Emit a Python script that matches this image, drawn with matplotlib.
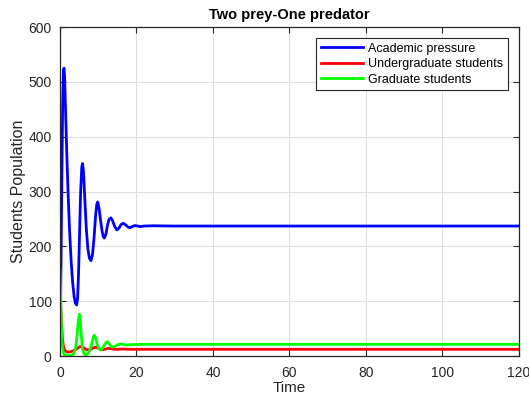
import matplotlib
matplotlib.use("Agg")
import matplotlib.pyplot as plt

# values
t_pressure = [0, 0.2, 0.45, 0.7, 0.9, 1.05, 1.2, 1.45, 1.75, 2.1, 2.5, 2.9, 3.3, 3.7,
              4.05, 4.35, 4.6, 4.85, 5.1, 5.4, 5.7, 5.92, 6.15, 6.5, 6.9, 7.3, 7.7,
              8.1, 8.5, 8.9, 9.3, 9.6, 9.85, 10.2, 10.6, 11.0, 11.3, 11.6, 12.0, 12.4,
              12.8, 13.3, 13.8, 14.3, 14.9, 15.4, 16.0, 16.6, 17.2, 17.8, 18.3, 18.9,
              19.6, 20.3, 21, 22, 24, 30, 40, 60, 80, 100, 120]
pressure = [20, 120, 300, 460, 520, 525, 510, 450, 375, 300, 230, 175, 135, 108,
            96, 93, 105, 150, 220, 300, 345, 351, 335, 285, 230, 195, 178,
            174, 185, 215, 255, 276, 281, 270, 248, 228, 218, 215, 222, 238,
            249, 252, 246, 236, 230, 233, 240, 242, 239, 235, 234, 236,
            238, 237, 236, 237, 237.5, 237, 237, 237, 237, 237, 237]

t_under = [0, 0.15, 0.35, 0.6, 0.9, 1.3, 1.9, 2.6, 3.3, 4.0, 4.6, 5.2, 5.7, 6.2,
           6.8, 7.4, 8.0, 8.6, 9.2, 9.8, 10.5, 11.2, 11.8, 12.6, 13.3, 14.0, 14.8,
           15.6, 16.5, 17.5, 19, 21, 40, 60, 80, 100, 120]
under = [120, 100, 65, 35, 18, 10, 7, 7.5, 9, 11, 14, 17, 17, 15,
         12, 11, 12, 14.5, 16, 15, 12.5, 11.5, 12.5, 14, 13.5, 12.5, 12,
         12.5, 12.8, 12.3, 12.2, 12.2, 12.2, 12.2, 12.2, 12.2, 12.2]

t_grad = [0, 0.15, 0.35, 0.6, 0.9, 1.3, 2, 3, 3.6, 4.1, 4.5, 4.8, 5.05, 5.3, 5.6,
          5.9, 6.3, 6.8, 7.3, 7.8, 8.3, 8.7, 8.97, 9.3, 9.7, 10.2, 10.6, 11.1,
          11.6, 12.1, 12.4, 12.8, 13.3, 13.9, 14.5, 15.2, 15.9, 16.6, 17.3, 18.5,
          20, 22, 40, 60, 80, 100, 120]
grad = [157, 120, 60, 20, 5, 1, 0.5, 1, 4, 15, 40, 65, 76, 65, 35,
        12, 4, 2, 4, 10, 22, 34, 38, 33, 22, 13, 11, 14,
        20, 25, 26, 23, 18, 16, 18, 21, 22, 21, 20, 20.5,
        21, 21.3, 21.3, 21.3, 21.3, 21.3, 21.3]

plt.rcParams['font.family'] = ['Liberation Sans', 'DejaVu Sans']

fig = plt.figure(figsize=(5.29, 3.96), dpi=100)
ax = fig.add_axes([0.1134, 0.101, 0.8676, 0.8308])

ax.plot(t_pressure, pressure, color=(0, 0, 1), lw=2, label='Academic pressure')
ax.plot(t_under, under, color=(1, 0, 0), lw=2, label='Undergraduate students')
ax.plot(t_grad, grad, color=(0, 1, 0), lw=2, label='Graduate students')

ax.set_xlim(0, 120)
ax.set_ylim(0, 600)
ax.set_xticks(range(0, 121, 20))
ax.set_yticks(range(0, 601, 100))
ax.grid(True, color=(0.87, 0.87, 0.87), lw=0.8)
ax.set_axisbelow(True)
ax.tick_params(direction='in', top=True, right=True, length=4, width=0.8,
               labelsize=10, colors=(0.15, 0.15, 0.15))
ax.tick_params(axis='x', pad=7)
ax.tick_params(axis='y', pad=6)
for s in ax.spines.values():
    s.set_color((0.15, 0.15, 0.15))
    s.set_linewidth(0.9)

ax.set_title('Two prey-One predator', fontsize=10.5, fontweight='bold', pad=6)
ax.set_xlabel('Time', fontsize=11, color=(0.15, 0.15, 0.15), labelpad=1)
ax.set_ylabel('Students Population', fontsize=11.5, color=(0.15, 0.15, 0.15), labelpad=2)

leg = ax.legend(loc='upper right', fontsize=9, fancybox=False, framealpha=1,
                edgecolor=(0.15, 0.15, 0.15), handlelength=3.4, borderpad=0.35,
                labelspacing=0.28, handletextpad=0.4, borderaxespad=0.9)
leg.get_frame().set_linewidth(0.8)

fig.savefig('out.png', dpi=100)
